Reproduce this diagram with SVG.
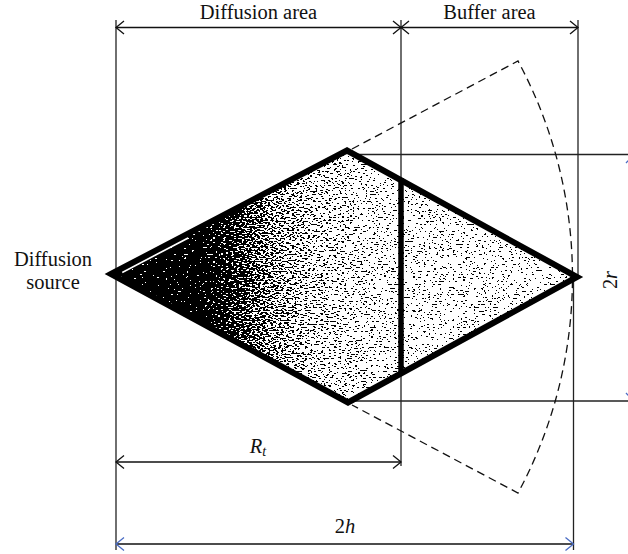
<svg xmlns="http://www.w3.org/2000/svg" width="628" height="554" viewBox="0 0 628 554">
<style>
.t{font-family:"Liberation Serif","Times New Roman",serif;font-size:20.5px;fill:#111}
.i{font-style:italic}
.ln{stroke:#222;stroke-width:1.3;fill:none}
.dim{stroke:#111;stroke-width:1.3;fill:none}
.dash{stroke:#111;stroke-width:1.3;fill:none;stroke-dasharray:8 5}
</style>
<defs>
<marker id="ah" markerUnits="userSpaceOnUse" markerWidth="12" markerHeight="16" viewBox="0 -8 12 16" refX="10" refY="0" orient="auto-start-reverse">
<path d="M2,-6.5 L10,0 L2,6.5" fill="none" stroke="#111" stroke-width="1.3"/>
</marker>
<marker id="ahb" markerUnits="userSpaceOnUse" markerWidth="12" markerHeight="16" viewBox="0 -8 12 16" refX="10" refY="0" orient="auto-start-reverse">
<path d="M2,-6.5 L10,0 L2,6.5" fill="none" stroke="#4a6cc4" stroke-width="1.3"/>
</marker>
<linearGradient id="g" gradientUnits="userSpaceOnUse" x1="111" y1="0" x2="577" y2="0">
<stop offset="0" stop-color="#000"/>
<stop offset="0.19" stop-color="#000"/>
<stop offset="0.26" stop-color="#404040"/>
<stop offset="0.34" stop-color="#888"/>
<stop offset="0.43" stop-color="#b8b8b8"/>
<stop offset="0.54" stop-color="#d6d6d6"/>
<stop offset="0.64" stop-color="#dedede"/>
<stop offset="1" stop-color="#e6e6e6"/>
</linearGradient>
<filter id="stip" x="0" y="0" width="1" height="1" color-interpolation-filters="sRGB">
<feTurbulence type="fractalNoise" baseFrequency="0.38 0.7" numOctaves="1" seed="7" result="n"/>
<feColorMatrix in="n" type="matrix" values="1 0 0 0 0 1 0 0 0 0 1 0 0 0 0 0 0 0 0 1" result="ng"/>
<feComponentTransfer in="ng" result="nc">
<feFuncR type="linear" slope="2.6" intercept="-0.8"/>
<feFuncG type="linear" slope="2.6" intercept="-0.8"/>
<feFuncB type="linear" slope="2.6" intercept="-0.8"/>
</feComponentTransfer>
<feComposite in="SourceGraphic" in2="nc" operator="arithmetic" k1="0" k2="1" k3="1" k4="-0.5" result="sum"/>
<feComponentTransfer in="sum">
<feFuncR type="discrete" tableValues="0 1"/>
<feFuncG type="discrete" tableValues="0 1"/>
<feFuncB type="discrete" tableValues="0 1"/>
<feFuncA type="linear" slope="0" intercept="1"/>
</feComponentTransfer>
</filter>
<clipPath id="dc"><polygon points="111,274 347,150.5 577,277 348,402.5"/></clipPath>
</defs>

<g id="connectors">
<line class="ln" x1="116" y1="20" x2="116" y2="550"/>
<line class="ln" x1="401" y1="20" x2="401" y2="466"/>
<line class="ln" x1="578" y1="20" x2="578" y2="277"/>
<line class="ln" x1="573.5" y1="277" x2="573.5" y2="550"/>
<line class="ln" x1="347" y1="154.5" x2="628" y2="154.5"/>
<line class="ln" x1="348" y1="401" x2="628" y2="401"/>
<line class="dim" x1="116" y1="27.5" x2="401" y2="27.5" marker-start="url(#ah)" marker-end="url(#ah)"/>
<line class="dim" x1="401" y1="27.5" x2="578" y2="27.5" marker-start="url(#ah)" marker-end="url(#ah)"/>
<line class="dim" x1="116" y1="462" x2="401" y2="462" marker-start="url(#ah)" marker-end="url(#ah)"/>
<line class="dim" x1="116" y1="544" x2="573.5" y2="544" marker-start="url(#ahb)" marker-end="url(#ahb)"/>
<path d="M626,163 L633,155.5 M626,393 L633,400.5" fill="none" stroke="#4a6cc4" stroke-width="1.3"/>
<path class="dash" d="M352,149 L518,61 A455.5,455.5 0 0 1 518,493 L352,405"/>
</g>

<g id="diamond">
<rect x="105" y="145" width="480" height="265" fill="url(#g)" filter="url(#stip)" clip-path="url(#dc)"/>
<line x1="122" y1="272" x2="188" y2="237.5" stroke="#fff" stroke-width="2.6"/>
<polygon points="111,274 347,150.5 577,277 348,402.5" fill="none" stroke="#000" stroke-width="6" stroke-linejoin="miter" stroke-miterlimit="10"/>
<line x1="401" y1="178" x2="401" y2="375" stroke="#000" stroke-width="5.5"/>
</g>

<g id="labels">
<text class="t" x="258.5" y="18.5" text-anchor="middle">Diffusion area</text>
<text class="t" x="489.5" y="18.5" text-anchor="middle">Buffer area</text>
<text class="t" x="53" y="266" text-anchor="middle">Diffusion</text>
<text class="t" x="53" y="289" text-anchor="middle">source</text>
<text class="t" x="258" y="453" text-anchor="middle"><tspan class="i">R</tspan><tspan class="i" font-size="14" dy="3">t</tspan></text>
<text class="t" x="345" y="533" text-anchor="middle">2<tspan class="i">h</tspan></text>
<text class="t" transform="translate(617,280) rotate(-90)" text-anchor="middle">2<tspan class="i">r</tspan></text>
</g>
</svg>
